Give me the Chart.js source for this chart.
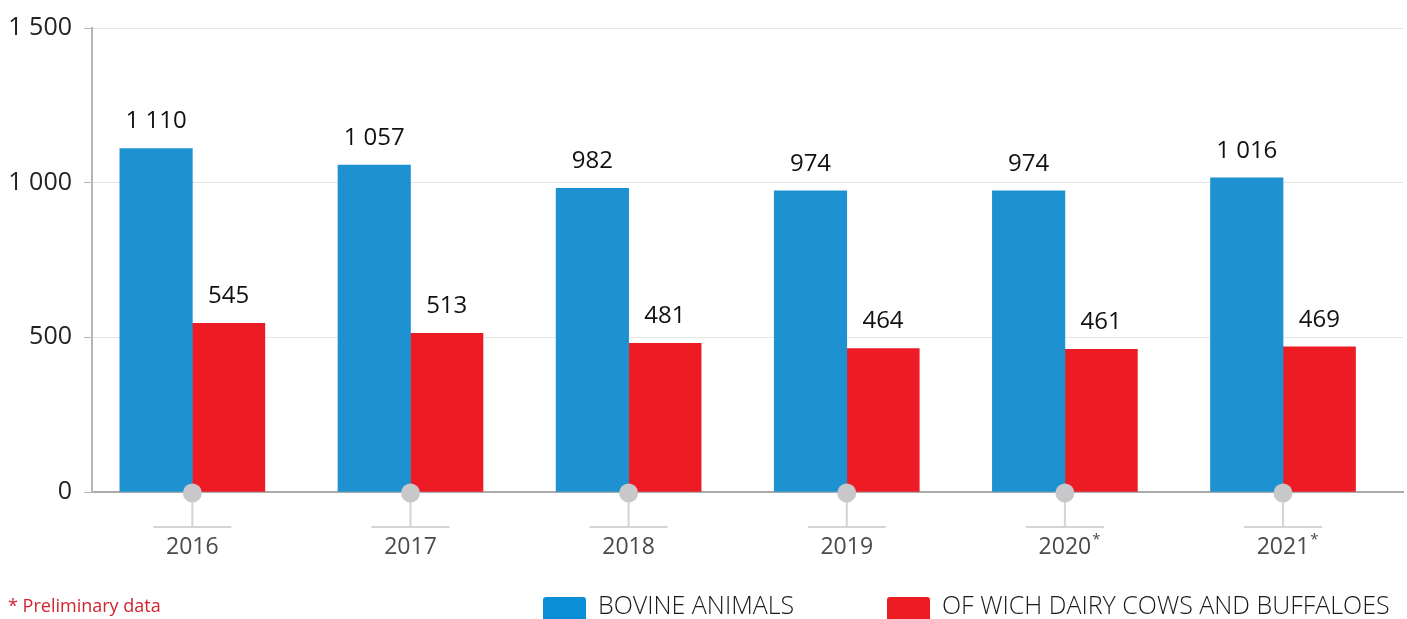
<!DOCTYPE html>
<html lang="en">
<head>
  <meta charset="UTF-8">
  <title>Bovine animals</title>
  <script src="https://cdn.jsdelivr.net/npm/chart.js"></script>
  <style>
    body {
      margin: 0;
      background: #fff;
      overflow: hidden;
    }
    .chart-box {
      position: relative;
      width: 1407px;
      height: 619px;
    }
  </style>
</head>
<body>
  <div class="chart-box">
    <canvas id="bovineChart"></canvas>
  </div>

  <script>
    // data (thousand heads)
    const years = ['2016', '2017', '2018', '2019', '2020', '2021'];
    const preliminary = [false, false, false, false, true, true];
    const bovineAnimals = [1110, 1057, 982, 974, 974, 1016];
    const dairyCows = [545, 513, 481, 464, 461, 469];
    const yTicks = [0, 500, 1000, 1500];
    const seriesNames = ['BOVINE ANIMALS', 'OF WICH DAIRY COWS AND BUFFALOES'];
    const footnote = '* Preliminary data';

    const FONT = '"Open Sans", "Noto Sans", sans-serif';

    function spaced(v) {
      return String(v).replace(/\B(?=(\d{3})+(?!\d))/g, ' ');
    }

    function points(values) {
      return values.map((v, i) => ({ x: i, y: v }));
    }

    // values above the bars, year ticks, footnote and legend
    const decorations = {
      id: 'decorations',
      afterDatasetsDraw(chart) {
        const ctx = chart.ctx;
        ctx.save();
        ctx.font = '24px ' + FONT;
        ctx.fillStyle = '#111';
        ctx.textAlign = 'center';
        ctx.textBaseline = 'middle';
        chart.data.datasets.forEach((ds, di) => {
          chart.getDatasetMeta(di).data.forEach((bar, i) => {
            ctx.fillText(spaced(ds.data[i].y), bar.x, bar.y - 27);
          });
        });
        ctx.restore();
      },
      afterDraw(chart) {
        const ctx = chart.ctx;
        const xs = chart.scales.x;
        const base = chart.chartArea.bottom;
        ctx.save();

        years.forEach((year, i) => {
          const cx = xs.getPixelForValue(i);
          ctx.strokeStyle = '#d4d4d4';
          ctx.lineWidth = 2;
          ctx.beginPath();
          ctx.moveTo(cx, base);
          ctx.lineTo(cx, base + 35);
          ctx.moveTo(cx - 39, base + 35);
          ctx.lineTo(cx + 39, base + 35);
          ctx.stroke();

          ctx.fillStyle = '#c8c8ca';
          ctx.beginPath();
          ctx.arc(cx, base + 1, 9.5, 0, Math.PI * 2);
          ctx.fill();

          ctx.font = '23px ' + FONT;
          ctx.fillStyle = '#4a4a4a';
          ctx.textAlign = 'center';
          ctx.textBaseline = 'middle';
          ctx.fillText(year, cx, base + 55);
          if (preliminary[i]) {
            const w = ctx.measureText(year).width;
            ctx.font = '15px ' + FONT;
            ctx.textAlign = 'left';
            ctx.fillText('*', cx + w / 2 + 1, base + 48);
          }
        });

        ctx.font = '18px ' + FONT;
        ctx.fillStyle = '#d2232f';
        ctx.textAlign = 'left';
        ctx.textBaseline = 'middle';
        ctx.fillText(footnote, 8, 607);

        const legendX = [543, 887];
        chart.data.datasets.forEach((ds, di) => {
          const x = legendX[di];
          ctx.fillStyle = ds.legendColor;
          ctx.beginPath();
          ctx.roundRect(x, 597, 43, 24, 3);
          ctx.fill();
          ctx.font = '300 25px ' + FONT;
          ctx.fillStyle = '#1a1a1a';
          ctx.fillText(ds.label, x + 55, 607);
        });

        ctx.restore();
      }
    };

    const ctx = document.getElementById('bovineChart').getContext('2d');
    const bovineChart = new Chart(ctx, {
      type: 'bar',
      data: {
        datasets: [{
          label: seriesNames[0],
          data: points(bovineAnimals),
          backgroundColor: '#1e91d1',
          legendColor: '#0a8fd6',
          barThickness: 72.5
        }, {
          label: seriesNames[1],
          data: points(dairyCows),
          backgroundColor: '#ed1c24',
          legendColor: '#ed1c24',
          barThickness: 72.5
        }]
      },
      options: {
        responsive: true,
        maintainAspectRatio: false,
        animation: false,
        layout: {
          padding: { top: 28, right: 4, left: 0, bottom: 0 }
        },
        plugins: {
          legend: { display: false },
          tooltip: { enabled: false }
        },
        scales: {
          x: {
            type: 'linear',
            offset: false,
            min: -0.46,
            max: 5.55,
            afterBuildTicks(axis) { axis.ticks = years.map((_, i) => ({ value: i })); },
            grid: { display: false },
            ticks: { display: false },
            border: { color: '#ababab', width: 2 },
            afterFit(axis) { axis.height = 127; }
          },
          y: {
            min: 0,
            max: 1500,
            afterBuildTicks(axis) { axis.ticks = yTicks.map(v => ({ value: v })); },
            ticks: {
              padding: 12,
              color: '#222',
              font: { family: FONT, size: 25 },
              callback: v => spaced(v)
            },
            grid: {
              color: '#e6e6e6',
              tickColor: '#b5b5b5',
              tickLength: 8
            },
            border: { color: '#b5b5b5', width: 2 },
            afterFit(axis) { axis.width = 92; }
          }
        }
      },
      plugins: [decorations]
    });
  </script>
</body>
</html>
